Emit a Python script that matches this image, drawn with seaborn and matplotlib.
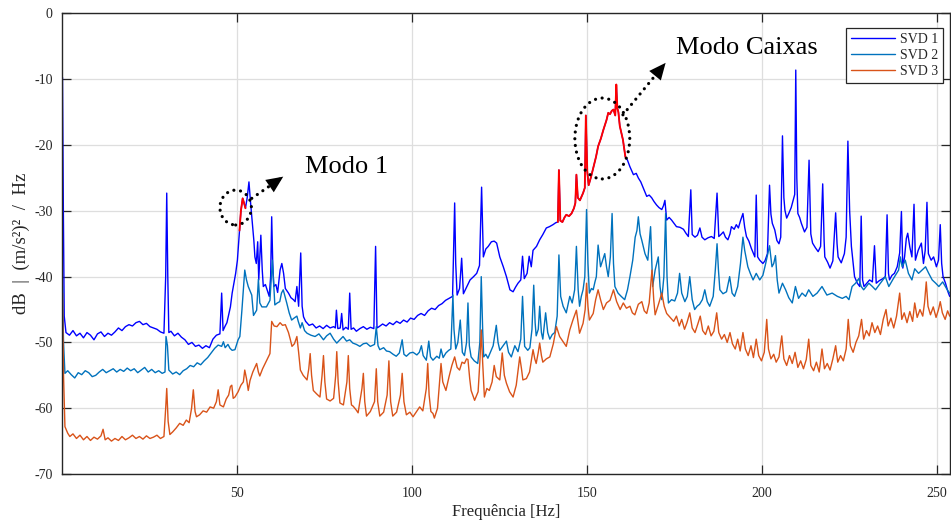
import matplotlib
matplotlib.use("Agg")
import matplotlib.pyplot as plt
from matplotlib.lines import Line2D
from matplotlib.patches import Ellipse
import pandas as pd
import seaborn as sns

# Singular value spectra (frequency in Hz, level in dB)
svd1 = [
    (0.0, -9.7), (0.25, -30.0), (0.5, -46.0), (1.0, -48.5), (2.0, -48.9), (3.0, -48.2), (4.0, -49.0),
    (5.0, -48.6), (6.0, -49.3), (7.0, -48.5), (8.0, -48.9), (9.0, -49.6), (10.0, -48.7), (11.0, -48.4),
    (12.0, -49.1), (13.0, -48.6), (14.0, -48.9), (15.0, -48.4), (16.0, -47.8), (17.0, -48.2), (18.0, -47.6),
    (19.0, -47.3), (20.0, -47.5), (21.0, -47.0), (22.0, -46.8), (23.0, -47.3), (24.0, -47.1), (25.0, -47.6),
    (26.0, -47.8), (27.0, -48.0), (28.0, -48.4), (29.0, -48.6), (29.5, -40.0), (29.8, -27.3), (30.1, -40.0),
    (30.4, -48.5), (31.0, -48.3), (32.0, -49.0), (33.0, -48.6), (34.0, -49.2), (35.0, -49.6), (36.0, -50.3),
    (37.0, -50.0), (38.0, -50.6), (39.0, -50.4), (40.0, -50.9), (41.0, -50.5), (42.0, -50.8), (43.0, -49.5),
    (44.0, -48.9), (45.0, -48.7), (45.5, -42.5), (45.9, -48.2), (46.5, -47.5), (47.0, -47.0), (47.5, -45.8),
    (48.0, -44.6), (48.5, -42.5), (49.0, -41.0), (49.5, -39.5), (50.0, -37.5), (50.6, -33.0), (51.0, -30.0),
    (51.5, -28.1), (51.9, -28.8), (52.3, -29.6), (52.8, -28.0), (53.3, -25.6), (53.8, -29.0), (54.2, -31.4),
    (54.7, -34.5), (55.0, -37.0), (55.4, -38.0), (55.8, -34.7), (56.1, -40.5), (56.7, -33.7), (57.1, -39.0),
    (57.4, -41.5), (58.0, -41.2), (58.5, -42.0), (59.1, -43.0), (59.5, -40.0), (59.8, -30.9), (60.1, -38.0),
    (60.4, -41.5), (61.0, -41.2), (61.5, -42.4), (62.2, -39.0), (62.7, -38.0), (63.2, -39.5), (63.7, -41.8),
    (64.6, -42.5), (65.3, -43.2), (66.0, -43.5), (66.5, -43.8), (67.0, -41.5), (67.5, -44.5), (68.1, -36.4),
    (68.5, -44.5), (68.9, -46.1), (69.5, -46.8), (70.5, -47.4), (71.5, -47.2), (72.5, -47.8), (73.5, -47.5),
    (74.5, -47.9), (75.5, -47.4), (76.5, -47.8), (77.5, -47.6), (78.0, -47.8), (78.3, -45.1), (78.7, -47.9),
    (79.4, -47.8), (79.8, -45.6), (80.2, -48.1), (81.0, -47.7), (81.7, -48.0), (82.1, -42.5), (82.5, -48.0),
    (83.2, -47.8), (84.0, -48.3), (85.0, -47.9), (86.0, -47.6), (87.0, -48.0), (88.0, -47.7), (89.0, -47.9),
    (89.5, -35.4), (89.9, -47.8), (90.5, -47.6), (91.5, -47.2), (92.5, -47.5), (93.5, -47.0), (94.5, -47.3),
    (95.5, -46.8), (96.5, -47.1), (97.5, -46.6), (98.5, -46.9), (99.5, -46.3), (100.5, -46.5), (101.5, -45.9),
    (102.5, -45.6), (103.5, -45.9), (104.5, -45.2), (105.5, -44.8), (106.5, -45.0), (107.5, -44.4),
    (108.5, -44.1), (109.5, -43.6), (110.5, -43.3), (111.5, -43.0), (111.8, -36.0), (112.1, -28.8),
    (112.4, -38.0), (112.8, -42.8), (113.5, -41.8), (114.1, -37.2), (114.6, -42.6), (115.5, -41.6),
    (116.5, -40.5), (117.5, -40.0), (118.4, -39.5), (119.2, -38.3), (119.8, -26.4), (120.3, -37.0),
    (121.0, -35.8), (121.7, -35.4), (122.6, -34.7), (123.4, -34.6), (124.1, -34.9), (125.0, -37.0),
    (126.0, -38.5), (126.9, -40.0), (127.9, -42.0), (128.8, -42.3), (129.5, -41.6), (130.2, -41.0),
    (131.0, -40.5), (131.5, -36.9), (132.0, -40.3), (132.8, -39.5), (133.4, -36.9), (134.0, -38.5),
    (134.5, -36.0), (135.5, -35.4), (136.4, -34.4), (137.3, -33.6), (138.3, -32.6), (139.2, -32.4),
    (140.2, -32.1), (141.0, -31.8), (141.6, -31.7), (141.9, -23.8), (142.3, -31.5), (142.9, -31.7),
    (143.5, -31.0), (144.0, -30.6), (144.8, -30.8), (145.5, -30.4), (146.2, -29.6), (146.6, -28.8),
    (146.9, -24.5), (147.3, -28.0), (147.9, -28.4), (148.8, -27.3), (149.3, -26.5), (149.6, -15.5),
    (150.0, -24.0), (150.4, -26.1), (151.1, -24.8), (151.8, -23.3), (152.5, -21.8), (153.1, -20.2),
    (153.9, -19.0), (154.6, -17.7), (155.5, -16.2), (156.0, -15.1), (156.5, -15.3), (157.0, -14.8),
    (157.5, -14.6), (158.0, -15.5), (158.3, -10.8), (158.6, -14.4), (158.9, -15.0), (159.3, -17.1),
    (160.2, -19.2), (160.9, -21.8), (161.5, -22.3), (162.2, -23.3), (163.2, -24.5), (164.0, -24.3),
    (164.6, -25.0), (165.3, -25.6), (166.0, -26.5), (167.0, -27.8), (167.7, -27.6), (168.4, -28.0),
    (169.1, -28.6), (169.8, -29.1), (170.5, -29.5), (171.3, -29.8), (171.8, -29.2), (172.2, -28.4),
    (172.7, -31.4), (173.4, -31.0), (174.1, -31.4), (174.8, -31.9), (175.5, -32.4), (176.5, -32.5),
    (177.5, -32.8), (178.2, -33.4), (178.9, -33.9), (179.6, -26.8), (180.0, -33.6), (180.8, -34.0),
    (181.5, -33.7), (182.2, -32.6), (182.8, -34.0), (183.6, -34.4), (184.5, -34.1), (185.5, -33.9),
    (186.3, -34.2), (187.1, -27.3), (187.6, -33.9), (188.2, -33.6), (188.9, -33.2), (189.5, -34.0),
    (190.2, -34.4), (190.8, -33.5), (191.2, -32.4), (192.0, -32.8), (192.6, -32.1), (193.2, -32.6),
    (193.8, -31.5), (194.5, -30.4), (195.0, -32.5), (195.5, -33.9), (196.2, -34.6), (196.9, -35.7),
    (197.5, -36.5), (197.9, -37.0), (198.3, -27.6), (198.7, -37.0), (199.3, -37.5), (200.2, -38.0),
    (200.8, -37.6), (201.5, -36.5), (202.1, -26.1), (202.5, -30.5), (202.9, -31.9), (203.6, -32.9),
    (204.2, -34.5), (204.8, -35.0), (205.3, -34.0), (205.8, -18.6), (206.2, -28.0), (206.5, -29.9),
    (207.0, -31.1), (207.6, -30.4), (208.3, -29.5), (208.9, -28.3), (209.3, -27.5), (209.6, -8.6),
    (209.9, -25.0), (210.2, -30.4), (210.7, -31.0), (211.2, -31.9), (212.1, -33.2), (212.8, -32.5),
    (213.4, -22.3), (213.9, -33.5), (214.4, -34.9), (215.2, -35.6), (216.0, -36.2), (216.7, -35.4),
    (217.3, -25.9), (217.7, -34.5), (217.9, -37.0), (218.7, -37.8), (219.4, -38.7), (220.2, -37.6),
    (221.0, -30.3), (221.4, -35.0), (221.7, -37.0), (222.6, -37.9), (223.5, -36.5), (224.0, -34.0),
    (224.5, -19.4), (225.0, -30.0), (225.5, -35.4), (226.0, -38.0), (226.4, -40.0), (227.2, -41.0),
    (227.9, -41.5), (228.3, -30.8), (228.7, -40.5), (229.1, -41.5), (229.9, -41.0), (230.7, -40.5),
    (231.5, -40.8), (232.1, -35.3), (232.6, -41.0), (233.5, -40.6), (234.5, -40.3), (235.2, -40.0),
    (235.7, -30.6), (236.1, -39.5), (236.4, -40.5), (237.1, -39.8), (237.8, -39.5), (238.6, -38.5),
    (239.3, -36.4), (239.8, -30.1), (240.2, -38.7), (240.7, -37.0), (241.2, -34.2), (241.6, -33.4),
    (242.2, -35.5), (242.8, -37.0), (243.4, -29.0), (243.8, -37.5), (244.6, -36.0), (245.5, -34.9),
    (246.1, -38.0), (246.6, -36.0), (247.1, -28.7), (247.5, -36.5), (248.3, -37.5), (249.0, -37.0),
    (249.8, -38.5), (250.4, -37.5), (250.9, -32.1), (251.3, -38.0), (251.7, -40.0), (252.4, -41.0),
    (253.1, -42.3), (253.6, -43.0),
]

svd2 = [
    (0.0, -41.5), (0.3, -50.0), (0.7, -54.7), (1.5, -54.3), (2.5, -54.9), (3.5, -55.4), (4.5, -54.6),
    (5.5, -54.9), (6.5, -54.3), (7.5, -54.6), (8.5, -55.2), (9.5, -55.0), (10.5, -54.5), (11.5, -54.1),
    (12.5, -54.6), (13.5, -54.3), (14.5, -54.0), (15.5, -54.5), (16.5, -54.1), (17.5, -54.4), (18.5, -53.9),
    (19.5, -54.3), (20.5, -54.0), (21.5, -54.6), (22.5, -54.2), (23.5, -53.8), (24.5, -54.5), (25.5, -54.1),
    (26.5, -54.6), (27.5, -54.3), (28.5, -54.7), (29.3, -54.5), (29.6, -49.1), (30.0, -50.5), (30.4, -54.2),
    (31.5, -54.8), (32.5, -54.5), (33.5, -54.9), (34.5, -54.3), (35.5, -54.0), (36.5, -53.5), (37.5, -53.7),
    (38.5, -53.1), (39.5, -53.4), (40.5, -52.8), (41.5, -52.3), (42.5, -51.6), (43.5, -50.9), (44.5, -50.4),
    (45.5, -50.6), (46.0, -49.9), (46.5, -50.8), (47.3, -50.3), (47.9, -50.9), (48.5, -51.2), (49.3, -51.1),
    (50.2, -49.6), (50.7, -49.1), (51.3, -45.0), (52.1, -39.0), (52.6, -40.5), (53.1, -41.5), (54.1, -42.8),
    (54.6, -45.9), (55.5, -45.1), (56.0, -40.4), (56.4, -44.0), (57.0, -44.6), (58.3, -44.6), (59.3, -43.6),
    (60.0, -37.5), (60.7, -44.3), (61.4, -44.0), (62.1, -43.8), (62.6, -42.5), (63.1, -42.0), (63.6, -43.0),
    (64.1, -44.0), (64.8, -45.5), (65.5, -46.6), (66.2, -46.3), (67.0, -46.0), (67.4, -46.8), (68.0, -47.8),
    (68.5, -47.0), (69.2, -48.2), (69.9, -48.6), (71.0, -48.9), (72.2, -49.1), (73.3, -48.7), (74.6, -49.6),
    (75.5, -49.0), (76.5, -48.6), (77.5, -49.5), (78.4, -50.1), (79.3, -49.6), (80.2, -49.1), (81.2, -49.8),
    (82.1, -49.6), (83.0, -50.1), (84.0, -50.3), (85.0, -50.6), (86.0, -50.2), (86.9, -50.1), (88.0, -50.6),
    (89.2, -50.3), (89.7, -47.6), (90.2, -50.5), (90.7, -51.1), (91.8, -50.8), (92.6, -51.3), (93.5, -51.4),
    (94.5, -51.8), (95.4, -52.1), (96.3, -51.6), (97.1, -49.6), (97.6, -51.8), (98.3, -52.1), (99.3, -51.6),
    (100.2, -51.5), (101.3, -51.9), (102.0, -51.5), (102.6, -50.5), (103.1, -52.0), (104.0, -52.7),
    (104.7, -49.8), (105.2, -52.2), (105.9, -52.7), (107.0, -52.1), (107.7, -52.4), (108.2, -51.0),
    (108.8, -52.3), (109.6, -51.6), (110.4, -51.2), (111.0, -51.0), (111.3, -47.0), (111.6, -42.8),
    (111.9, -48.0), (112.4, -51.0), (113.0, -50.0), (113.7, -46.6), (114.3, -51.5), (114.9, -52.0),
    (115.5, -50.0), (115.9, -44.0), (116.3, -50.5), (116.8, -52.2), (117.7, -52.8), (118.7, -53.2),
    (119.3, -50.0), (119.7, -40.0), (120.1, -48.0), (120.4, -52.2), (121.0, -51.8), (121.6, -52.4),
    (122.4, -51.4), (123.1, -50.5), (124.0, -47.4), (124.5, -50.0), (125.0, -51.2), (125.8, -50.6),
    (126.9, -49.8), (127.5, -51.5), (128.3, -52.2), (129.3, -50.5), (130.2, -51.4), (131.0, -49.5),
    (131.5, -43.0), (132.1, -50.6), (133.0, -51.2), (133.6, -50.8), (134.2, -48.0), (134.7, -41.3),
    (135.1, -47.0), (135.4, -49.0), (136.0, -48.0), (136.4, -44.5), (136.9, -48.5), (137.3, -49.5),
    (138.1, -45.5), (138.7, -48.5), (139.3, -49.5), (140.0, -48.8), (140.7, -48.5), (141.4, -46.0),
    (141.9, -36.7), (142.4, -43.0), (143.1, -44.5), (144.0, -45.5), (145.0, -43.0), (145.7, -44.0),
    (146.4, -42.0), (146.9, -35.4), (147.4, -42.0), (147.8, -44.5), (148.3, -43.0), (148.8, -42.0),
    (149.3, -40.0), (149.8, -29.8), (150.2, -38.0), (150.6, -42.5), (151.2, -41.8), (151.7, -42.0),
    (152.2, -40.8), (152.6, -40.0), (153.1, -35.2), (153.8, -38.5), (154.4, -37.5), (155.0, -36.5),
    (155.5, -38.5), (156.0, -40.0), (156.6, -37.0), (157.1, -30.4), (157.5, -38.0), (157.9, -41.5),
    (158.8, -42.5), (159.7, -43.0), (160.7, -43.5), (161.5, -42.0), (162.2, -40.0), (163.0, -37.5),
    (163.7, -34.0), (164.2, -33.0), (164.6, -30.9), (165.1, -33.5), (165.6, -34.5), (166.5, -36.5),
    (167.3, -37.5), (168.1, -32.4), (168.7, -41.5), (169.4, -39.0), (170.3, -37.0), (170.8, -41.5),
    (171.3, -43.5), (171.9, -40.0), (172.4, -30.4), (172.8, -40.0), (173.2, -44.0), (174.1, -43.5),
    (175.0, -43.7), (175.8, -42.5), (176.4, -39.5), (177.0, -42.5), (177.9, -43.8), (178.6, -43.0),
    (179.3, -40.0), (180.0, -43.5), (180.7, -45.0), (181.4, -44.5), (182.1, -44.2), (182.9, -43.5),
    (183.6, -42.0), (184.3, -43.8), (185.0, -44.5), (186.0, -43.0), (186.6, -39.0), (187.1, -35.0),
    (187.5, -39.0), (187.9, -42.0), (188.8, -42.6), (189.8, -42.3), (190.7, -40.0), (191.4, -42.5),
    (192.1, -43.0), (193.0, -41.5), (193.8, -38.0), (194.5, -34.0), (195.0, -36.0), (195.9, -38.5),
    (196.6, -39.5), (197.4, -40.5), (198.3, -39.5), (199.3, -40.5), (200.2, -39.8), (201.0, -38.0),
    (201.6, -36.5), (202.1, -35.3), (202.8, -38.5), (203.3, -38.0), (203.8, -36.8), (204.3, -40.5),
    (204.8, -42.5), (205.8, -41.0), (206.7, -42.0), (207.6, -43.2), (208.6, -44.0), (209.5, -41.5),
    (210.4, -43.3), (211.4, -42.5), (212.4, -43.0), (213.3, -42.0), (214.5, -43.0), (215.7, -42.5),
    (217.1, -41.5), (218.5, -42.8), (220.0, -42.5), (221.5, -43.0), (222.9, -43.3), (224.0, -43.0),
    (224.8, -43.5), (225.7, -41.5), (226.7, -41.0), (227.6, -40.3), (228.3, -41.5), (229.0, -42.0),
    (230.5, -41.0), (231.5, -41.5), (232.4, -42.0), (233.5, -41.2), (235.2, -40.0), (236.2, -41.5),
    (237.5, -40.3), (239.0, -39.0), (239.5, -37.0), (240.0, -38.5), (240.9, -37.5), (241.8, -39.5),
    (242.8, -40.5), (243.6, -38.8), (244.7, -39.5), (245.7, -39.0), (246.7, -38.5), (247.6, -39.5),
    (248.6, -40.5), (249.6, -41.0), (250.5, -41.5), (251.6, -40.8), (252.9, -42.0), (253.6, -42.5),
]

svd3 = [
    (0.0, -42.5), (0.3, -55.0), (0.7, -62.8), (1.5, -63.8), (2.1, -64.3), (3.0, -63.9), (4.0, -64.6),
    (5.0, -64.1), (6.0, -64.8), (7.0, -64.3), (8.0, -64.9), (9.0, -64.4), (10.0, -64.7), (11.0, -64.2),
    (11.6, -63.2), (12.2, -64.8), (13.0, -64.5), (14.0, -65.0), (15.0, -64.6), (16.0, -64.9), (17.0, -64.3),
    (18.0, -64.8), (19.0, -64.5), (20.0, -64.1), (21.0, -64.6), (22.0, -64.3), (23.0, -64.7), (24.0, -64.2),
    (25.0, -64.6), (26.0, -64.4), (27.0, -64.1), (28.0, -64.6), (29.0, -64.3), (29.5, -60.0), (29.8, -57.0),
    (30.2, -62.0), (30.7, -64.0), (31.5, -63.6), (32.5, -63.0), (33.5, -62.3), (34.5, -62.6), (35.4, -61.8),
    (36.2, -62.2), (36.9, -60.0), (37.4, -57.2), (37.9, -60.5), (38.3, -61.3), (39.2, -61.0), (40.2, -60.4),
    (41.2, -60.6), (42.2, -59.8), (43.2, -60.0), (44.0, -59.0), (44.5, -57.2), (45.0, -59.5), (46.0, -59.8),
    (46.8, -58.6), (47.5, -58.0), (48.0, -56.7), (48.4, -56.5), (48.8, -58.5), (49.3, -58.3), (50.2, -57.5),
    (51.0, -56.5), (51.7, -56.0), (52.1, -54.2), (52.6, -55.5), (53.1, -57.3), (53.6, -55.8), (54.4, -54.5),
    (55.0, -53.8), (55.5, -53.2), (56.0, -54.5), (56.4, -55.1), (57.2, -54.0), (58.3, -52.8), (59.3, -51.7),
    (59.8, -46.8), (60.5, -47.5), (61.3, -47.6), (62.2, -47.0), (62.9, -47.4), (63.7, -47.3), (64.6, -48.5),
    (65.1, -49.5), (65.6, -50.6), (66.3, -50.2), (67.0, -49.1), (67.5, -51.5), (68.0, -54.2), (68.8, -55.0),
    (69.9, -55.7), (70.4, -54.0), (70.8, -51.7), (71.2, -55.0), (71.7, -57.3), (72.6, -57.8), (73.6, -58.3),
    (74.2, -55.0), (74.6, -52.0), (75.0, -56.0), (75.5, -58.6), (76.5, -58.9), (77.5, -58.5), (78.1, -55.0),
    (78.4, -51.4), (78.8, -56.0), (79.3, -59.2), (80.3, -59.5), (81.3, -56.0), (81.7, -52.0), (82.1, -57.0),
    (82.6, -59.5), (83.1, -59.7), (84.0, -60.3), (84.5, -60.7), (85.6, -57.0), (86.0, -54.7), (86.4, -59.0),
    (86.9, -61.2), (88.0, -60.5), (89.2, -59.0), (89.7, -54.0), (90.1, -59.0), (90.7, -61.2), (91.8, -60.6),
    (92.8, -58.0), (93.3, -52.8), (93.8, -59.0), (94.4, -61.2), (95.5, -60.6), (96.6, -58.0), (97.1, -54.7),
    (97.6, -59.0), (98.3, -61.0), (99.3, -60.6), (100.2, -61.3), (101.2, -60.5), (102.1, -59.8),
    (103.0, -60.4), (104.0, -57.0), (104.4, -53.2), (104.8, -58.0), (105.3, -60.5), (105.9, -60.8),
    (106.3, -61.5), (107.2, -60.0), (107.8, -56.0), (108.2, -53.2), (108.7, -56.0), (109.6, -57.3),
    (110.5, -55.2), (111.3, -53.5), (112.1, -52.2), (112.8, -53.8), (113.5, -54.2), (114.2, -53.0),
    (114.9, -53.2), (115.5, -52.5), (115.9, -52.6), (116.4, -55.5), (116.8, -57.3), (117.8, -58.8),
    (118.8, -57.5), (119.3, -53.0), (119.7, -48.1), (120.1, -53.0), (120.6, -58.3), (121.3, -57.0),
    (122.0, -57.3), (122.8, -56.0), (123.4, -53.5), (124.0, -55.2), (125.0, -55.7), (125.7, -51.6),
    (126.3, -55.0), (126.9, -56.2), (127.8, -57.5), (128.8, -58.3), (129.7, -56.5), (130.3, -54.0),
    (130.7, -52.2), (131.2, -54.0), (131.6, -55.7), (132.6, -55.5), (133.5, -54.5), (134.1, -52.5),
    (134.5, -51.1), (135.0, -52.5), (135.4, -53.2), (136.0, -51.5), (136.4, -50.1), (136.9, -52.0),
    (137.3, -53.0), (138.3, -52.5), (139.3, -52.2), (140.3, -50.2), (141.2, -47.6), (142.1, -49.1),
    (143.0, -49.8), (144.0, -50.6), (145.0, -48.1), (145.9, -46.6), (146.9, -45.1), (147.8, -48.6),
    (148.8, -47.1), (149.4, -45.0), (149.8, -41.0), (150.2, -44.5), (150.6, -46.6), (151.7, -45.6),
    (152.4, -43.5), (153.1, -42.0), (153.8, -43.5), (154.6, -45.0), (155.5, -44.0), (156.5, -43.6),
    (157.5, -42.0), (158.4, -43.8), (159.4, -45.0), (160.3, -44.0), (161.2, -44.8), (162.2, -44.5),
    (162.9, -45.5), (163.6, -45.8), (164.6, -44.2), (165.6, -43.8), (166.3, -45.2), (167.0, -45.6),
    (167.7, -44.0), (168.5, -39.0), (169.0, -43.5), (169.4, -45.8), (170.3, -44.3), (171.3, -42.5),
    (172.0, -44.5), (172.7, -45.6), (173.7, -46.2), (174.7, -46.8), (175.5, -46.0), (176.3, -47.5),
    (177.0, -46.5), (177.8, -48.0), (178.5, -47.0), (179.3, -45.5), (180.0, -47.8), (180.8, -48.5),
    (181.6, -47.2), (182.3, -46.0), (183.0, -48.2), (183.8, -48.8), (184.6, -47.5), (185.4, -49.0),
    (186.2, -48.3), (187.0, -45.5), (187.6, -48.5), (188.4, -49.5), (189.2, -48.8), (190.0, -50.0),
    (190.8, -48.5), (191.5, -50.2), (192.3, -51.0), (193.0, -49.5), (193.7, -51.3), (194.5, -48.5),
    (195.2, -51.0), (196.0, -52.0), (196.8, -50.5), (197.5, -52.3), (198.3, -49.5), (199.0, -52.0),
    (199.8, -52.8), (200.6, -51.5), (201.3, -46.5), (201.8, -51.0), (202.5, -52.5), (203.3, -51.8),
    (204.0, -53.0), (204.8, -52.2), (205.6, -49.0), (206.2, -52.5), (207.0, -53.5), (207.8, -52.0),
    (208.6, -53.2), (209.4, -51.5), (210.2, -53.8), (211.0, -52.8), (211.8, -54.0), (212.6, -52.6),
    (213.3, -49.5), (213.9, -53.5), (214.7, -54.3), (215.5, -53.0), (216.3, -54.5), (217.1, -51.0),
    (217.8, -54.0), (218.6, -53.2), (219.4, -54.2), (220.2, -52.5), (221.0, -50.5), (221.6, -53.0),
    (222.4, -52.0), (223.2, -52.8), (224.0, -51.0), (224.6, -46.5), (225.2, -50.5), (226.0, -51.5),
    (226.8, -50.0), (227.6, -49.0), (228.4, -46.5), (229.0, -49.5), (229.8, -48.2), (230.6, -49.0),
    (231.4, -47.0), (232.2, -48.5), (233.0, -47.5), (233.8, -48.8), (234.6, -46.5), (235.4, -45.0),
    (236.0, -47.5), (236.8, -46.3), (237.6, -47.8), (238.4, -46.0), (239.3, -42.5), (239.9, -46.5),
    (240.6, -45.5), (241.4, -47.0), (242.2, -45.3), (243.0, -46.8), (243.6, -44.0), (244.3, -46.2),
    (245.1, -45.0), (245.9, -46.0), (246.4, -44.0), (246.9, -40.8), (247.4, -44.5), (248.1, -45.8),
    (248.9, -44.6), (249.7, -46.2), (250.4, -45.0), (250.9, -43.8), (251.5, -45.5), (252.3, -46.5),
    (253.0, -45.2), (253.6, -46.0),
]

series_labels = ["SVD 1", "SVD 2", "SVD 3"]
series_colors = ["#0000FF", "#0072BD", "#D95319"]

# Frequency bands of SVD 1 highlighted as identified modes
mode_bands = [(50.6, 52.3), (141.6, 160.9)]

x_ticks = [50, 100, 150, 200, 250]
y_ticks = [-70, -60, -50, -40, -30, -20, -10, 0]
x_limits = (0.0, 253.7)
y_limits = (-70, 0)

sns.set_style("ticks")
plt.rcParams["font.family"] = ["Liberation Serif", "DejaVu Serif"]
plt.rcParams["axes.unicode_minus"] = False
plt.rcParams["axes.edgecolor"] = "#262626"
plt.rcParams["xtick.color"] = "#262626"
plt.rcParams["ytick.color"] = "#262626"

fig = plt.figure(figsize=(9.51, 5.21), dpi=100)
ax = fig.add_axes([0.0657, 0.0902, 0.9333, 0.8839])

frames = []
for label, points in zip(series_labels, (svd1, svd2, svd3)):
    hz, db = zip(*points)
    frames.append(pd.DataFrame({"hz": hz, "db": db, "serie": label}))
spectra = pd.concat(frames, ignore_index=True)

sns.lineplot(data=spectra, x="hz", y="db", hue="serie", hue_order=series_labels,
             palette=dict(zip(series_labels, series_colors)), estimator=None, sort=False,
             linewidth=1.0, legend=False, ax=ax)

first = spectra[spectra["serie"] == "SVD 1"]
for lo, hi in mode_bands:
    seg = first[(first["hz"] >= lo) & (first["hz"] <= hi)]
    sns.lineplot(x=seg["hz"].to_numpy(), y=seg["db"].to_numpy(), color="#FF0000",
                 estimator=None, sort=False, linewidth=1.35, legend=False, ax=ax)

ax.set_xlim(*x_limits)
ax.set_ylim(*y_limits)
ax.set_xticks(x_ticks)
ax.set_yticks(y_ticks)
ax.grid(True, color="#dedede", linewidth=0.9)
ax.set_axisbelow(True)
for side in ("left", "right", "top", "bottom"):
    ax.spines[side].set_visible(True)
    ax.spines[side].set_linewidth(1.0)
ax.tick_params(direction="in", top=True, right=True, length=6.5, width=0.9,
               labelsize=10, pad=7)
ax.tick_params(axis="x", pad=9)

ax.set_xlabel("Frequência [Hz]", fontsize=12, labelpad=3)
ax.set_ylabel("dB  |  (m/s²)²  /  Hz", fontsize=13.5, labelpad=3)

# Mode annotations: dotted ellipses, dotted leaders with solid heads, labels
dot = (0, (0.01, 2.1))
annotations = [
    {"center": (49.5, -29.5), "size": (9.0, 5.3), "start": (54.1, -28.1), "tip": (63.1, -24.8),
     "text": "Modo 1", "text_at": (69.3, -24.3)},
    {"center": (154.3, -19.0), "size": (15.7, 12.3), "start": (160.2, -15.4), "tip": (172.4, -7.5),
     "text": "Modo Caixas", "text_at": (175.5, -6.15)},
]
for a in annotations:
    ell = Ellipse(a["center"], a["size"][0], a["size"][1], fill=False, edgecolor="black",
                  linewidth=2.3, linestyle=dot, zorder=5)
    ell.set_capstyle("round")
    ax.add_patch(ell)
    ax.plot([a["start"][0], a["tip"][0]], [a["start"][1], a["tip"][1]], color="black",
            linewidth=2.3, linestyle=dot, dash_capstyle="round", zorder=5)
    ax.annotate("", xy=a["tip"], xytext=a["start"],
                arrowprops=dict(arrowstyle="-|>,head_length=1.0,head_width=0.45",
                                mutation_scale=12, color="black", linewidth=0,
                                shrinkA=0, shrinkB=0), zorder=6)
    ax.text(a["text_at"][0], a["text_at"][1], a["text"], fontsize=19, ha="left",
            va="baseline", color="black", zorder=6)

handles = [Line2D([], [], color=c, linewidth=1.0) for c in series_colors]
leg = ax.legend(handles, series_labels, loc="upper right", bbox_to_anchor=(0.992, 0.9685),
                borderaxespad=0, fontsize=10, frameon=True, fancybox=False, framealpha=1,
                edgecolor="#262626", handlelength=3.2, handletextpad=0.35,
                labelspacing=0.22, borderpad=0.35)
leg.get_frame().set_linewidth(0.9)

fig.savefig("out.png", dpi=100)
